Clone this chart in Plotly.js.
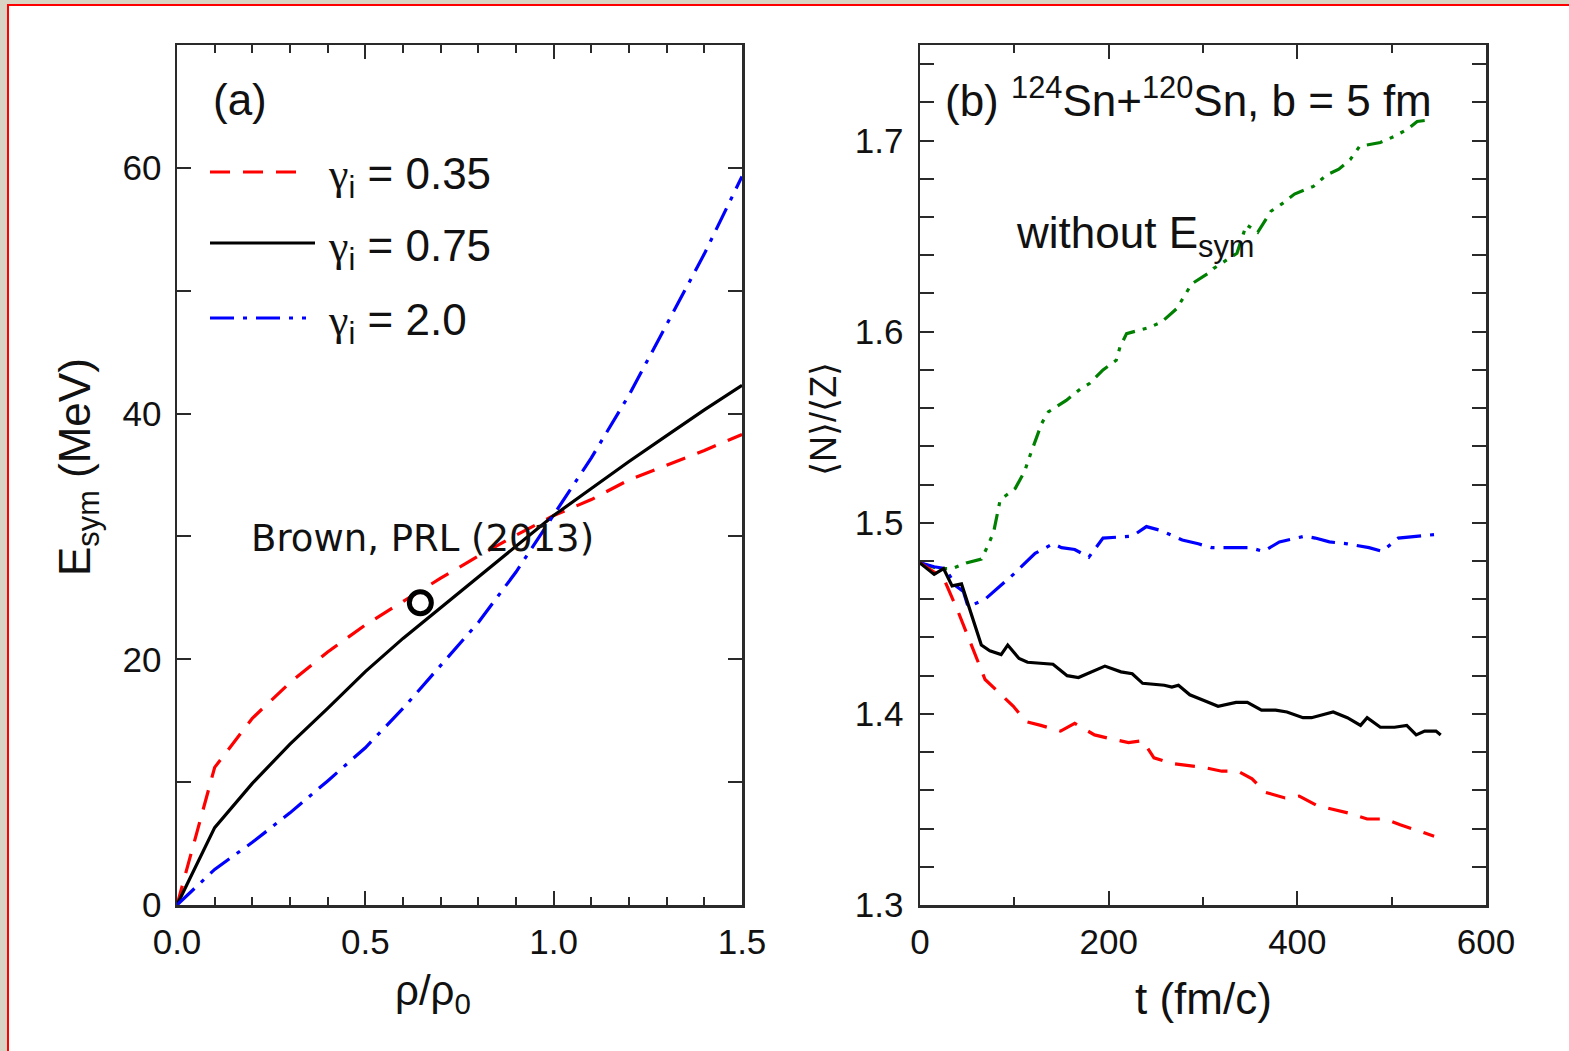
<!DOCTYPE html>
<html>
<head>
<meta charset="utf-8">
<script src="https://cdn.plot.ly/plotly-3.0.1.min.js"></script>
<style>
  html, body { margin: 0; padding: 0; background: #ffffff; width: 1569px; height: 1051px; overflow: hidden; }
  .frame { position: absolute; }
  #plot { position: absolute; left: 0; top: 0; width: 1569px; height: 1051px; }
</style>
</head>
<body>
<div class="frame" style="left:0;top:0;width:1569px;height:4px;background:#d8d5c5;"></div>
<div class="frame" style="left:0;top:0;width:7px;height:1051px;background:#d8d5c5;"></div>
<div class="frame" style="left:7px;top:4px;width:1562px;height:2px;background:#ff0000;"></div>
<div class="frame" style="left:7px;top:4px;width:2px;height:1047px;background:#ff0000;"></div>
<div id="plot"></div>
<script>
// ---------- Panel (a): symmetry energy vs density ----------
const rho = [0, 0.1, 0.2, 0.3, 0.4, 0.5, 0.6, 0.7, 0.8, 0.9, 1.0, 1.1, 1.2, 1.3, 1.4, 1.5];
const esym_035 = [0, 11.2, 15.2, 18.1, 20.6, 22.8, 24.7, 26.6, 28.4, 30.1, 31.7, 33.0, 34.6, 35.8, 37.0, 38.3];
const esym_075 = [0, 6.3, 9.9, 13.1, 16.0, 19.0, 21.7, 24.2, 26.7, 29.2, 31.7, 33.9, 36.1, 38.2, 40.3, 42.3];
const esym_20  = [0, 2.9, 5.1, 7.5, 10.1, 12.8, 16.0, 19.5, 23.0, 27.1, 31.8, 36.4, 41.5, 47.2, 53.0, 59.3];
const brown_rho = [0.646];
const brown_esym = [24.6];

// ---------- Panel (b): <N>/<Z> vs time ----------
const t_075 = [0,15,25,34,44,53,65,74,86,93,105,114,141,156,168,196,213,225,236,259,267,274,286,301,316,335,347,362,377,389,406,415,438,453,467,474,488,503,516,526,535,547,552];
const nz_075 = [1.479,1.473,1.476,1.467,1.468,1.454,1.436,1.433,1.431,1.436,1.429,1.427,1.426,1.420,1.419,1.425,1.422,1.421,1.416,1.415,1.414,1.415,1.410,1.407,1.404,1.406,1.406,1.402,1.402,1.401,1.398,1.398,1.401,1.398,1.394,1.398,1.393,1.393,1.394,1.389,1.391,1.391,1.389];

const t_035 = [0,25,40,59,69,99,112,128,149,164,185,202,221,236,248,267,284,301,320,337,352,366,387,402,421,438,455,474,493,509,545];
const nz_035 = [1.479,1.471,1.454,1.430,1.418,1.404,1.396,1.394,1.391,1.395,1.389,1.387,1.385,1.386,1.377,1.374,1.373,1.372,1.370,1.370,1.366,1.359,1.356,1.357,1.352,1.350,1.348,1.345,1.345,1.342,1.336];

const t_20 = [0,15,27,38,46,51,69,99,122,141,150,164,179,194,225,240,255,278,295,309,339,350,364,381,408,419,434,453,476,490,507,530,549];
const nz_20 = [1.479,1.477,1.476,1.467,1.464,1.456,1.460,1.473,1.484,1.489,1.487,1.486,1.482,1.492,1.493,1.498,1.496,1.491,1.489,1.487,1.487,1.487,1.485,1.490,1.493,1.492,1.490,1.489,1.487,1.485,1.492,1.493,1.494];

const t_noesym = [0,19,34,49,65,71,78,83,85,101,111,115,124,129,136,155,170,180,194,208,212,219,242,256,272,282,288,307,311,336,342,346,358,372,384,397,417,431,444,456,466,478,488,502,517,527,543];
const nz_noesym = [1.479,1.476,1.476,1.479,1.481,1.487,1.495,1.506,1.512,1.518,1.527,1.533,1.545,1.552,1.558,1.564,1.570,1.573,1.580,1.585,1.592,1.599,1.602,1.605,1.612,1.620,1.625,1.631,1.633,1.641,1.650,1.656,1.652,1.663,1.667,1.672,1.676,1.682,1.685,1.690,1.697,1.698,1.699,1.702,1.706,1.710,1.711];

const legendLabels = ['0.35', '0.75', '2.0'];

// ---------- styles ----------
const W = 1569, H = 1051;
const FONT = 'Liberation Sans, Arial, Helvetica, sans-serif';
const RED = '#ff0000', BLACK = '#000000', BLUE = '#0000ff', GREEN = '#008000';
const DASH_RED = '20px,13px';
const DASH_BLUE = '24px,9px,4px,9px';
const DASH_GREEN = '16px,8px,4px,8px,4px,8px';
const LW = 3.2;

const traces = [
  {x: rho, y: esym_035, xaxis: 'x', yaxis: 'y', mode: 'lines', line: {color: RED, width: LW, dash: DASH_RED}, showlegend: false},
  {x: rho, y: esym_075, xaxis: 'x', yaxis: 'y', mode: 'lines', line: {color: BLACK, width: LW}, showlegend: false},
  {x: rho, y: esym_20, xaxis: 'x', yaxis: 'y', mode: 'lines', line: {color: BLUE, width: LW, dash: DASH_BLUE}, showlegend: false},
  {x: brown_rho, y: brown_esym, xaxis: 'x', yaxis: 'y', mode: 'markers', marker: {symbol: 'circle-open', size: 22, color: BLACK, line: {width: 5, color: BLACK}}, showlegend: false},
  {x: t_noesym, y: nz_noesym, xaxis: 'x2', yaxis: 'y2', mode: 'lines', line: {color: GREEN, width: LW, dash: DASH_GREEN}, showlegend: false},
  {x: t_20, y: nz_20, xaxis: 'x2', yaxis: 'y2', mode: 'lines', line: {color: BLUE, width: LW, dash: DASH_BLUE}, showlegend: false},
  {x: t_035, y: nz_035, xaxis: 'x2', yaxis: 'y2', mode: 'lines', line: {color: RED, width: LW, dash: DASH_RED}, showlegend: false},
  {x: t_075, y: nz_075, xaxis: 'x2', yaxis: 'y2', mode: 'lines', line: {color: BLACK, width: LW}, showlegend: false}
];

function axisBase() {
  return {
    showline: true, linecolor: '#2a2a2a', linewidth: 2.5, mirror: 'allticks',
    ticks: 'inside', tickwidth: 2, tickcolor: '#2a2a2a',
    showgrid: false, zeroline: false, fixedrange: true,
    tickfont: {family: FONT, size: 35, color: '#111111'},
    ticklabelstandoff: 4
  };
}

const xa = Object.assign(axisBase(), {
  domain: [177 / W, 742 / W], range: [0, 1.5], dtick: 0.5, tick0: 0, tickformat: '.1f', ticklen: 14,
  minor: {ticks: 'inside', dtick: 0.1, tick0: 0, ticklen: 8, tickwidth: 2, tickcolor: '#2a2a2a', showgrid: false},
  anchor: 'y'
});
const ya = Object.assign(axisBase(), {
  domain: [1 - 905 / H, 1 - 45 / H], range: [0, 70], dtick: 20, tick0: 0, ticklen: 14,
  minor: {ticks: 'inside', dtick: 10, tick0: 0, ticklen: 14, tickwidth: 2, tickcolor: '#2a2a2a', showgrid: false},
  anchor: 'x', ticklabelstandoff: 6
});
const xb = Object.assign(axisBase(), {
  domain: [920 / W, 1486 / W], range: [0, 600], dtick: 200, tick0: 0, ticklen: 14,
  minor: {ticks: 'inside', dtick: 100, tick0: 0, ticklen: 8, tickwidth: 2, tickcolor: '#2a2a2a', showgrid: false},
  anchor: 'y2'
});
const yb = Object.assign(axisBase(), {
  domain: [1 - 905 / H, 1 - 45 / H], range: [1.3, 1.75], dtick: 0.1, tick0: 1.3, tickformat: '.1f', ticklen: 14,
  minor: {ticks: 'inside', dtick: 0.02, tick0: 1.3, ticklen: 14, tickwidth: 2, tickcolor: '#2a2a2a', showgrid: false},
  anchor: 'x2', ticklabelstandoff: 7
});

function P(px, py) { return {x: px / W, y: 1 - py / H, xref: 'paper', yref: 'paper'}; }
function ann(px, py, text, opts) {
  return Object.assign(P(px, py), {text: text, showarrow: false, xanchor: 'left', yanchor: 'middle',
    font: {family: FONT, size: 44, color: '#111111'}}, opts || {});
}
const GAMMA = '<span style="font-family:Liberation Serif, Times New Roman, serif">γ</span>';

const annotations = [
  ann(211, 100, '(a)'),
  ann(326, 177, GAMMA + '<sub>i</sub> = ' + legendLabels[0]),
  ann(326, 249, GAMMA + '<sub>i</sub> = ' + legendLabels[1]),
  ann(326, 323, GAMMA + '<sub>i</sub> = ' + legendLabels[2]),
  ann(249, 538, 'Brown, PRL (2013)', {font: {family: 'DejaVu Sans, sans-serif', size: 37, color: '#111111'}}),
  ann(943, 98, '(b) <sup>124</sup>Sn+<sup>120</sup>Sn, b = 5 fm'),
  ann(1014, 236, 'without E<sub>sym</sub>'),
  ann(78, 467, 'E<sub>sym</sub> (MeV)', {xanchor: 'center', textangle: -90}),
  ann(823, 419, '⟨N⟩/⟨Z⟩', {xanchor: 'center', textangle: -90, font: {family: 'Liberation Sans, DejaVu Sans, sans-serif', size: 36, color: '#111111'}}),
  ann(433, 993, 'ρ/ρ<sub>0</sub>', {xanchor: 'center', font: {family: FONT, size: 42, color: '#111111'}}),
  ann(1203, 998, 't (fm/c)', {xanchor: 'center'})
];

function seg(x0, x1, py, color, dash) {
  return {type: 'line', xref: 'paper', yref: 'paper', x0: x0 / W, x1: x1 / W, y0: 1 - py / H, y1: 1 - py / H,
    line: {color: color, width: LW, dash: dash || 'solid'}};
}
const shapes = [
  seg(210, 300, 172, RED, DASH_RED),
  seg(210, 315, 243, BLACK),
  seg(210, 306, 318, BLUE, DASH_BLUE)
];

const layout = {
  width: W, height: H, autosize: false,
  margin: {l: 0, r: 0, t: 0, b: 0, pad: 0},
  paper_bgcolor: 'rgba(0,0,0,0)', plot_bgcolor: '#ffffff',
  showlegend: false,
  xaxis: xa, yaxis: ya, xaxis2: xb, yaxis2: yb,
  annotations: annotations, shapes: shapes
};

Plotly.newPlot('plot', traces, layout, {displayModeBar: false, staticPlot: true});
</script>
</body>
</html>
